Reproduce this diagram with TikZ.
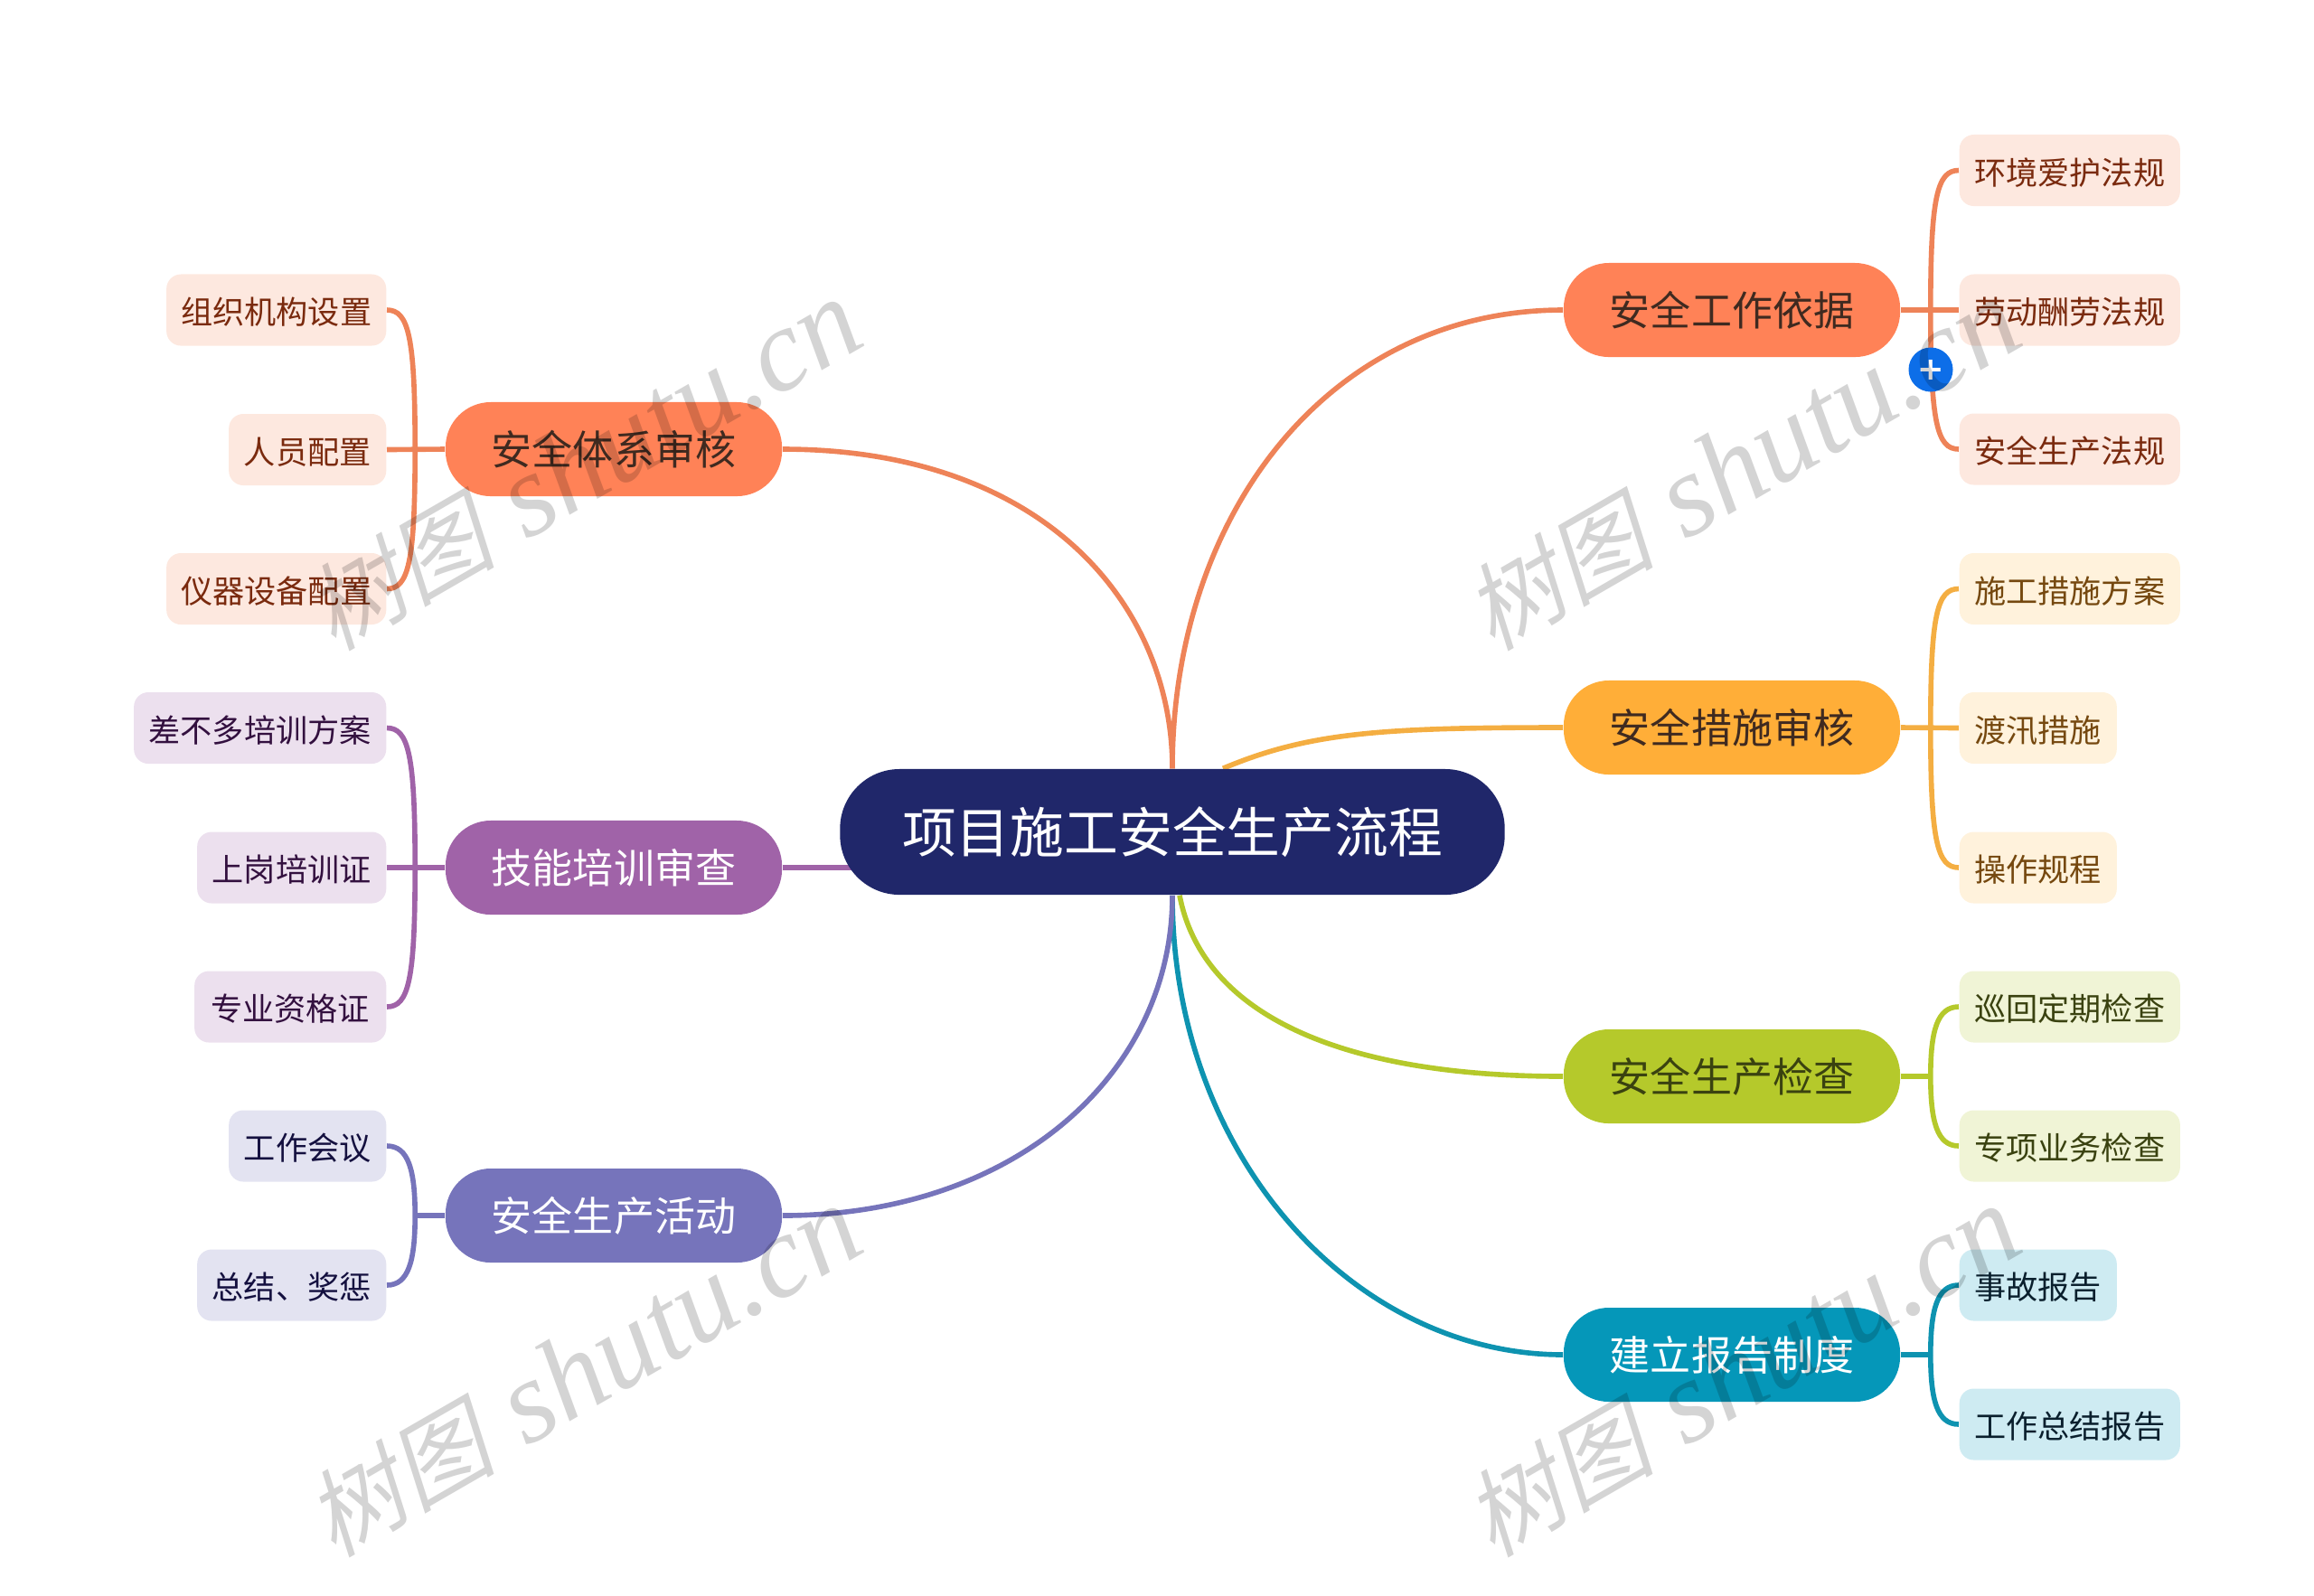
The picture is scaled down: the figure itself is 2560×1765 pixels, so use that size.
\documentclass[tikz,border=0pt]{standalone}
\usepackage{fontspec}
\setmainfont{Noto Sans CJK SC}
\newfontfamily\markcjk{Noto Sans CJK SC}[FakeSlant=0.22]
\newfontfamily\marklat{Liberation Serif}
\newfontfamily\plusfont{DejaVu Sans}
\definecolor{RootBlue}{HTML}{20276A}
\definecolor{CoralMain}{HTML}{FF8257}
\definecolor{CoralLine}{HTML}{EE8358}
\definecolor{CoralLeaf}{HTML}{FDE8DF}
\definecolor{CoralText}{HTML}{7A2A0E}
\definecolor{CoralDark}{HTML}{3F2A20}
\definecolor{AmberMain}{HTML}{FFAE38}
\definecolor{AmberLine}{HTML}{F4AE42}
\definecolor{AmberLeaf}{HTML}{FFF2DC}
\definecolor{AmberText}{HTML}{75480F}
\definecolor{LimeMain}{HTML}{B5C92B}
\definecolor{LimeLeaf}{HTML}{F0F4D6}
\definecolor{LimeText}{HTML}{3A4210}
\definecolor{TealMain}{HTML}{0597B9}
\definecolor{TealLine}{HTML}{0E93B0}
\definecolor{TealLeaf}{HTML}{CEEBF2}
\definecolor{TealText}{HTML}{0A1F2D}
\definecolor{PlumMain}{HTML}{A063A8}
\definecolor{PlumLeaf}{HTML}{ECE0EE}
\definecolor{PlumText}{HTML}{33103F}
\definecolor{IrisMain}{HTML}{7674BB}
\definecolor{IrisLeaf}{HTML}{E3E3F1}
\definecolor{IrisText}{HTML}{14103F}
\definecolor{PlusBlue}{HTML}{0D6EE8}
\usetikzlibrary{positioning, calc, backgrounds}

\begin{document}
\begin{tikzpicture}[
  x=0.01cm, y=-0.01cm,
  rootbox/.style={rounded corners=0.66cm, minimum width=7.35cm, minimum height=1.39cm, inner sep=0pt, font=\fontsize{17}{20}\selectfont},
  topic/.style={rounded corners=0.5cm, minimum width=3.72cm, minimum height=1.04cm, inner sep=0pt, font=\fontsize{12.8}{15}\selectfont},
  leaf/.style={rounded corners=0.16cm, minimum height=0.79cm, inner sep=0pt, text height=9pt, text depth=0pt, font=\fontsize{10}{12}\selectfont},
  link/.style={line width=1.6pt},
]
  \useasboundingbox (0,0) rectangle (2560,1765);

  % Center
  \node[rootbox, fill=RootBlue, text=white] (root) at (1297,920.5) {项目施工安全生产流程};

  % Topics
  \node[topic, fill=CoralMain, text=CoralDark] (tWork) at (1916,343) {安全工作依据};
  \node[topic, fill=AmberMain, text=CoralDark] (tMeasure) at (1916,805) {安全措施审核};
  \node[topic, fill=LimeMain, text=LimeText] (tCheck) at (1916,1191) {安全生产检查};
  \node[topic, fill=TealMain, text=white] (tReport) at (1916,1499) {建立报告制度};
  \node[topic, fill=CoralMain, text=CoralDark] (tSystem) at (679,497) {安全体系审核};
  \node[topic, fill=PlumMain, text=white] (tSkill) at (679,960) {技能培训审查};
  \node[topic, fill=IrisMain, text=white] (tEvent) at (679,1345) {安全生产活动};

  % Right leaves
  \foreach \n/\yy/\w/\t in {wA/188.5/2.44cm/环境爱护法规, wB/343/2.44cm/劳动酬劳法规, wC/497/2.44cm/安全生产法规} {
    \node[leaf, fill=CoralLeaf, text=CoralText, minimum width=\w, anchor=west] (\n) at (2167,\yy) {\t};
  }
  \foreach \n/\yy/\w/\t in {mA/651.5/2.44cm/施工措施方案, mB/805.5/1.74cm/渡汛措施, mC/960/1.74cm/操作规程} {
    \node[leaf, fill=AmberLeaf, text=AmberText, minimum width=\w, anchor=west] (\n) at (2167,\yy) {\t};
  }
  \foreach \n/\yy/\w/\t in {cA/1114/2.44cm/巡回定期检查, cB/1268/2.44cm/专项业务检查} {
    \node[leaf, fill=LimeLeaf, text=LimeText, minimum width=\w, anchor=west] (\n) at (2167,\yy) {\t};
  }
  \foreach \n/\yy/\w/\t in {rA/1422/1.74cm/事故报告, rB/1576/2.44cm/工作总结报告} {
    \node[leaf, fill=TealLeaf, text=TealText, minimum width=\w, anchor=west] (\n) at (2167,\yy) {\t};
  }

  % Left leaves
  \foreach \n/\yy/\w/\t in {sA/343/2.43cm/组织机构设置, sB/497.5/1.74cm/人员配置, sC/651.5/2.43cm/仪器设备配置} {
    \node[leaf, fill=CoralLeaf, text=CoralText, minimum width=\w, anchor=east] (\n) at (428,\yy) {\t};
  }
  \foreach \n/\yy/\w/\t in {kA/805.5/2.79cm/差不多培训方案, kB/960/2.09cm/上岗培训证, kC/1114/2.12cm/专业资格证} {
    \node[leaf, fill=PlumLeaf, text=PlumText, minimum width=\w, anchor=east] (\n) at (428,\yy) {\t};
  }
  \foreach \n/\yy/\w/\t in {eA/1268/1.74cm/工作会议, eB/1422/2.09cm/总结、奖惩} {
    \node[leaf, fill=IrisLeaf, text=IrisText, minimum width=\w, anchor=east] (\n) at (428,\yy) {\t};
  }

  \coordinate (amberFoot) at ($(root.north)+(56,0)$);
  \coordinate (limeFoot) at ($(root.south)+(8,0)$);

  \begin{scope}[on background layer]
    % Main branches
    \draw[link, CoralLine] (root.north) .. controls +(0,-280) and +(-260,0) .. (tWork.west);
    \draw[link, AmberLine] (amberFoot) .. controls +(95,-40) and +(-200,0) .. (tMeasure.west);
    \draw[link, LimeMain] (limeFoot) .. controls +(25,130) and +(-250,0) .. (tCheck.west);
    \draw[link, TealLine] (root.south) .. controls +(0,290) and +(-230,0) .. (tReport.west);
    \draw[link, CoralLine] (root.north) .. controls +(0,-180) and +(290,0) .. (tSystem.east);
    \draw[link, PlumMain] (root.center |- tSkill.east) -- (tSkill.east);
    \draw[link, IrisMain] (root.south) .. controls +(0,195) and +(260,0) .. (tEvent.east);

    % Right brackets
    \draw[link, CoralLine] (tWork.east) -- (wB.west);
    \draw[link, CoralLine] ($(tWork.east)+(33,0)$) .. controls +(0,-125) and +(-24,0) .. (wA.west);
    \draw[link, CoralLine] ($(tWork.east)+(33,0)$) .. controls +(0,125) and +(-24,0) .. (wC.west);
    \draw[link, AmberLine] (tMeasure.east) -- (mB.west);
    \draw[link, AmberLine] ($(tMeasure.east)+(33,0)$) .. controls +(0,-125) and +(-24,0) .. (mA.west);
    \draw[link, AmberLine] ($(tMeasure.east)+(33,0)$) .. controls +(0,125) and +(-24,0) .. (mC.west);
    \draw[link, LimeMain] (tCheck.east) -- +(33,0) coordinate (cJoin);
    \draw[link, LimeMain] (cJoin) .. controls +(0,-50) and +(-24,0) .. (cA.west);
    \draw[link, LimeMain] (cJoin) .. controls +(0,50) and +(-24,0) .. (cB.west);
    \draw[link, TealLine] (tReport.east) -- +(33,0) coordinate (rJoin);
    \draw[link, TealLine] (rJoin) .. controls +(0,-50) and +(-24,0) .. (rA.west);
    \draw[link, TealLine] (rJoin) .. controls +(0,50) and +(-24,0) .. (rB.west);

    % Left brackets
    \draw[link, CoralLine] (tSystem.west) -- (sB.east);
    \draw[link, CoralLine] ($(tSystem.west)+(-33,0)$) .. controls +(0,-125) and +(24,0) .. (sA.east);
    \draw[link, CoralLine] ($(tSystem.west)+(-33,0)$) .. controls +(0,125) and +(24,0) .. (sC.east);
    \draw[link, PlumMain] (tSkill.west) -- (kB.east);
    \draw[link, PlumMain] ($(tSkill.west)+(-33,0)$) .. controls +(0,-125) and +(24,0) .. (kA.east);
    \draw[link, PlumMain] ($(tSkill.west)+(-33,0)$) .. controls +(0,125) and +(24,0) .. (kC.east);
    \draw[link, IrisMain] (tEvent.west) -- +(-33,0) coordinate (eJoin);
    \draw[link, IrisMain] (eJoin) .. controls +(0,-50) and +(24,0) .. (eA.east);
    \draw[link, IrisMain] (eJoin) .. controls +(0,50) and +(24,0) .. (eB.east);
  \end{scope}

  % Collapse button
  \node[circle, fill=PlusBlue, text=white, minimum size=0.49cm, inner sep=0pt, font=\plusfont\bfseries\fontsize{10}{10}\selectfont] (plus) at (2136,409) {+};

  % Watermarks
  \foreach \n/\xx/\yy in {wmA/645/515, wmB/1927/515, wmC/645/1518, wmD/1927/1518} {
    \node[rotate=30, text=black, opacity=0.17, inner sep=0pt] (\n) at (\xx,\yy) {{\fontsize{30}{34}\selectfont\markcjk 树图}\hspace{10pt}{\fontsize{37}{40}\selectfont\marklat\itshape shutu.cn}};
  }
\end{tikzpicture}
\end{document}
